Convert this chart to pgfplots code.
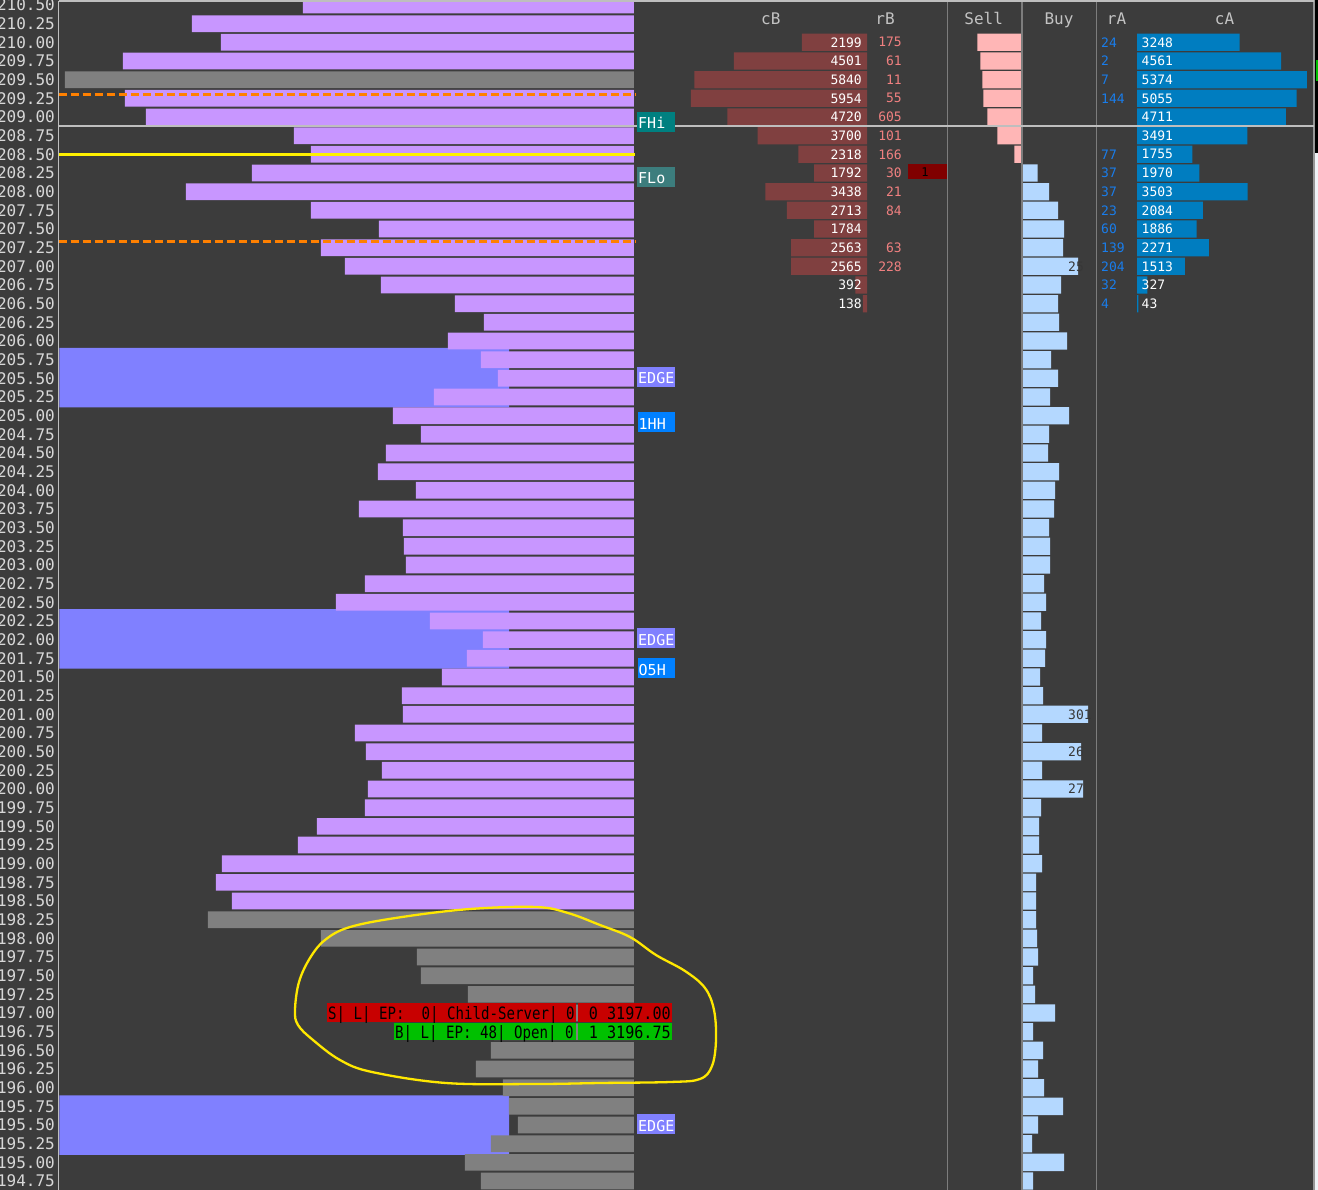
\documentclass[border=0pt]{standalone}
\usepackage{pgfplots}
\pgfplotsset{compat=1.18}
\usepackage{pgfplotstable}
\usepackage{graphicx}
\usepackage{fontspec}
\setmainfont{DejaVu Sans}
\newfontfamily\mono{DejaVu Sans Mono}
\newcommand\fs[1]{\fontsize{#1}{#1}\selectfont}

\definecolor{bg}{RGB}{60,60,60}
\definecolor{purp}{RGB}{200,150,255}
\definecolor{pgray}{RGB}{128,128,128}
\definecolor{band}{RGB}{128,128,255}
\definecolor{cbred}{RGB}{128,64,64}
\definecolor{rbtxt}{RGB}{240,128,128}
\definecolor{sellc}{RGB}{255,182,182}
\definecolor{buyc}{RGB}{180,216,255}
\definecolor{buytxt}{RGB}{55,55,55}
\definecolor{ratxt}{RGB}{25,125,235}
\definecolor{cablue}{RGB}{0,125,192}
\definecolor{ticklab}{RGB}{215,215,215}
\definecolor{hdr}{RGB}{195,195,195}
\definecolor{yel}{RGB}{255,240,0}
\definecolor{ora}{RGB}{255,128,0}
\definecolor{teal1}{RGB}{0,128,128}
\definecolor{teal2}{RGB}{60,125,125}
\definecolor{tagblue}{RGB}{0,128,255}
\definecolor{ordred}{RGB}{200,0,0}
\definecolor{ordgreen}{RGB}{0,192,0}
\definecolor{darkred}{RGB}{128,0,0}
\definecolor{sepc}{RGB}{125,125,125}
\definecolor{lightsep}{RGB}{190,190,190}
\definecolor{stripw}{RGB}{240,243,247}
\definecolor{ann}{RGB}{255,232,0}

% volume profile (bar length in px)
\pgfplotstableread{
p v
3210.50 331
3210.25 442
3210.00 413
3209.75 511
3209.25 509
3209.00 488
3208.75 340
3208.50 323
3208.25 382
3208.00 448
3207.75 323
3207.50 255
3207.25 313
3207.00 289
3206.75 253
3206.50 179
3206.25 150
3206.00 186
3205.75 153
3205.50 136
3205.25 200
3205.00 241
3204.75 213
3204.50 248
3204.25 256
3204.00 218
3203.75 275
3203.50 231
3203.25 230
3203.00 228
3202.75 269
3202.50 298
3202.25 204
3202.00 151
3201.75 167
3201.50 192
3201.25 232
3201.00 231
3200.75 279
3200.50 268
3200.25 252
3200.00 266
3199.75 269
3199.50 317
3199.25 336
3199.00 412
3198.75 418
3198.50 402
}\profP

\pgfplotstableread{
p v
3209.50 569
3198.25 426
3198.00 313
3197.75 217
3197.50 213
3197.25 166
3197.00 160
3196.75 140
3196.50 143
3196.25 158
3196.00 131
3195.75 125
3195.50 116
3195.25 143
3195.00 169
3194.75 153
}\profG

\pgfplotstableread{
p v
3205.51 449.5
3202.01 449.5
3195.50 449.5
}\bands

\pgfplotstableread{
p cB
3210.00 2199
3209.75 4501
3209.50 5840
3209.25 5954
3209.00 4720
3208.75 3700
3208.50 2318
3208.25 1792
3208.00 3438
3207.75 2713
3207.50 1784
3207.25 2563
3207.00 2565
3206.75 392
3206.50 138
}\cBtab

\pgfplotstableread{
p rB
3210.00 175
3209.75 61
3209.50 11
3209.25 55
3209.00 605
3208.75 101
3208.50 166
3208.25 30
3208.00 21
3207.75 84
3207.25 63
3207.00 228
}\rBtab

\pgfplotstableread{
p v
3210.00 43.5
3209.75 40.5
3209.50 38.5
3209.25 37.5
3209.00 33.5
3208.75 23.5
3208.50 6.5
}\sell

\pgfplotstableread{
p v
3208.25 15
3208.00 26.5
3207.75 35.5
3207.50 41.5
3207.25 40.5
3207.00 55.5
3206.75 38.5
3206.50 35.5
3206.25 36.5
3206.00 44.5
3205.75 28.5
3205.50 35.5
3205.25 27.5
3205.00 46.5
3204.75 26.5
3204.50 25.5
3204.25 36.5
3204.00 32.5
3203.75 31.5
3203.50 26.5
3203.25 27.5
3203.00 27.5
3202.75 21.5
3202.50 23.5
3202.25 18.5
3202.00 23.5
3201.75 22.5
3201.50 17.5
3201.25 20.5
3201.00 65.5
3200.75 19.5
3200.50 58.5
3200.25 19.5
3200.00 60.5
3199.75 18.5
3199.50 16.5
3199.25 16.5
3199.00 19.5
3198.75 13.5
3198.50 13.5
3198.25 13.5
3198.00 14.5
3197.75 15.5
3197.50 10.5
3197.25 12.5
3197.00 32.5
3196.75 10.5
3196.50 20.5
3196.25 15.5
3196.00 21.5
3195.75 40.5
3195.50 15.5
3195.25 9.5
3195.00 41.5
3194.75 10.5
}\buy

\pgfplotstableread{
p t
3207.00 25
3201.00 301
3200.50 26
3200.00 27
}\buylab

\pgfplotstableread{
p rA
3210.00 24
3209.75 2
3209.50 7
3209.25 144
3208.50 77
3208.25 37
3208.00 37
3207.75 23
3207.50 60
3207.25 139
3207.00 204
3206.75 32
3206.50 4
}\rAtab

\pgfplotstableread{
p cA
3210.00 3248
3209.75 4561
3209.50 5374
3209.25 5055
3209.00 4711
3208.75 3491
3208.50 1755
3208.25 1970
3208.00 3503
3207.75 2084
3207.50 1886
3207.25 2271
3207.00 1513
3206.75 327
3206.50 43
}\cAtab

\pgfplotsset{
  lay/.style={scale only axis, anchor=south west, height=1190pt,
    ymin=3194.630, ymax=3210.567, axis line style={draw=none},
    xtick=\empty, ytick=\empty, major tick length=0pt, clip=false,
    scaled ticks=false},
  hbar/.style={xbar, bar shift=0pt, draw=none, fill=#1, bar width=16.7pt},
  dbar/.style={xbar, bar shift=0pt, draw=none, fill=#1, bar width=17.3pt},
  txt/.style 2 args={only marks, mark=*, mark size=0pt,
    mark options={draw=none, fill=none}, nodes near coords,
    point meta=explicit symbolic,
    every node near coord/.append style={anchor=#1, text=#2, inner sep=0pt, font=\mono\fs{13}}},
}

\begin{document}
\begin{tikzpicture}
\useasboundingbox (0,0) rectangle (1318pt,1190pt);
\clip (0,0) rectangle (1318pt,1190pt);
\fill[bg] (0,0) rectangle (1318pt,1190pt);

% EDGE bands + price labels
\begin{axis}[lay, at={(59.5pt,0pt)}, width=574.5pt, xmin=0, xmax=574.5,
  ytick={3194.75,3195,...,3210.5},
  /pgf/number format/assume math mode=true,
  yticklabel style={font=\mono\fs{16}, text=ticklab, anchor=east, inner sep=0pt, xshift=-4.5pt,
    /pgf/number format/fixed, /pgf/number format/fixed zerofill,
    /pgf/number format/precision=2, /pgf/number format/1000 sep={}}]
\addplot[xbar, bar shift=0pt, bar width=59.5pt, draw=none, fill=band] table[x=v,y=p]{\bands};
\end{axis}

% volume profile
\begin{axis}[lay, at={(59.5pt,0pt)}, width=574.5pt, x dir=reverse, xmin=0, xmax=574.5]
\addplot[hbar=purp] table[x=v,y=p]{\profP};
\addplot[hbar=pgray] table[x=v,y=p]{\profG};
\end{axis}

% cB
\begin{axis}[lay, at={(690pt,0pt)}, width=177pt, x dir=reverse, xmin=0, xmax=5984]
\addplot[dbar=cbred] table[x=cB,y=p]{\cBtab};
\end{axis}

% Sell
\begin{axis}[lay, at={(947.5pt,0pt)}, width=73.3pt, x dir=reverse, xmin=0, xmax=73.3]
\addplot[dbar=sellc] table[x=v,y=p]{\sell};
\end{axis}

% Buy
\begin{axis}[lay, at={(1022.5pt,0pt)}, width=74pt, xmin=0, xmax=74]
\addplot[dbar=buyc] table[x=v,y=p]{\buy};
\end{axis}

% cA
\begin{axis}[lay, at={(1137pt,0pt)}, width=176pt, xmin=0, xmax=5570]
\addplot[dbar=cablue] table[x=cA,y=p]{\cAtab};
\end{axis}

% text columns
\begin{axis}[lay, at={(0pt,0pt)}, width=1318pt, xmin=0, xmax=1318]
\addplot[txt={east}{white}] table[x expr=862, y=p, meta=cB]{\cBtab};
\addplot[txt={east}{rbtxt}] table[x expr=902, y=p, meta=rB]{\rBtab};
\addplot[txt={west}{ratxt}] table[x expr=1101, y=p, meta=rA]{\rAtab};
\addplot[txt={west}{white}] table[x expr=1141.5, y=p, meta=cA]{\cAtab};
\addplot[txt={west}{buytxt}] table[x expr=1068, y=p, meta=t]{\buylab};
\end{axis}

% overlay in pixel coordinates
\begin{axis}[scale only axis, anchor=south west, at={(0pt,0pt)}, width=1318pt, height=1190pt,
  xmin=0, xmax=1318, ymin=0, ymax=1190, y dir=reverse, axis line style={draw=none},
  xtick=\empty, ytick=\empty, clip=false]
\draw[sepc, line width=1pt] (947.5,1.5) -- (947.5,1190);
\draw[sepc, line width=2pt] (1021.5,1.5) -- (1021.5,1190);
\draw[sepc, line width=1.2pt] (1096.5,1.5) -- (1096.5,1190);
\draw[sepc!80!white, line width=2pt] (1313.5,0) -- (1313.5,1190);
\fill[black] (1314.5,0) rectangle (1318,153);
\fill[green!75!black] (1316,60) rectangle (1318,81);
\fill[stripw] (1314.5,153) rectangle (1318,1190);
\draw[lightsep, line width=1.3pt] (58.5,1.2) -- (58.5,1190);
\draw[lightsep, line width=1.5pt] (58.5,1.2) -- (1313.5,1.2);
\draw[lightsep, line width=2pt] (58.5,126) -- (1313.5,126);
\draw[ora, line width=3pt, dash pattern=on 8pt off 4pt] (58.5,94.5) -- (636,94.5);
\draw[ora, line width=3pt, dash pattern=on 8pt off 4pt] (58.5,242) -- (636,242);
\draw[yel, line width=3.4pt] (58.5,154.3) -- (635,154.3);
% headers
\node[anchor=base, inner sep=0pt, text=hdr, font=\mono\fs{16}] at (770.8,25) {cB};
\node[anchor=base, inner sep=0pt, text=hdr, font=\mono\fs{16}] at (885,25) {rB};
\node[anchor=base, inner sep=0pt, text=hdr, font=\mono\fs{16}] at (983.7,25) {Sell};
\node[anchor=base, inner sep=0pt, text=hdr, font=\mono\fs{16}] at (1059,25) {Buy};
\node[anchor=base, inner sep=0pt, text=hdr, font=\mono\fs{16}] at (1116.5,25) {rA};
\node[anchor=base, inner sep=0pt, text=hdr, font=\mono\fs{16}] at (1224.5,25) {cA};
% tags
\fill[teal1] (637,112) rectangle (675,132);
\node[anchor=base west, inner sep=0pt, text=white, font=\mono\fs{15}] at (638,129) {FHi};
\fill[teal2] (637,167) rectangle (675,187);
\node[anchor=base west, inner sep=0pt, text=white, font=\mono\fs{15}] at (638,184) {FLo};
\fill[band] (637,367) rectangle (675,387);
\node[anchor=base west, inner sep=0pt, text=white, font=\mono\fs{15}] at (638,384) {EDGE};
\fill[tagblue] (638,412) rectangle (675,432);
\node[anchor=base west, inner sep=0pt, text=white, font=\mono\fs{15}] at (638.5,429) {1HH};
\fill[band] (637,628) rectangle (675,648);
\node[anchor=base west, inner sep=0pt, text=white, font=\mono\fs{15}] at (638,645) {EDGE};
\fill[tagblue] (638,658) rectangle (675,678);
\node[anchor=base west, inner sep=0pt, text=white, font=\mono\fs{15}] at (638.5,675) {O5H};
\fill[band] (637,1114) rectangle (675,1134);
\node[anchor=base west, inner sep=0pt, text=white, font=\mono\fs{15}] at (638,1131) {EDGE};
% small order cell
\fill[darkred] (907.5,164) rectangle (947,179.5);
\node[inner sep=0pt, text=black, font=\mono\fs{12}] at (925,172) {1};
% order boxes
\fill[ordred] (327,1003) rectangle (575.5,1021.5);
\fill[ordred] (577.5,1003) rectangle (671.5,1021.5);
\fill[ordgreen] (394,1022.5) rectangle (575.5,1040);
\fill[ordgreen] (577.5,1022.5) rectangle (671.5,1040);
\node[anchor=base west, inner sep=0pt, text=black, font=\mono\fs{17}] at (328,1019.5) {\scalebox{0.83}[1]{S| L| EP:\ \ 0| Child-Server| 0}};
\node[anchor=base east, inner sep=0pt, text=black, font=\mono\fs{17}] at (671,1019.5) {\scalebox{0.89}[1]{0 3197.00}};
\node[anchor=base west, inner sep=0pt, text=black, font=\mono\fs{17}] at (395,1038) {\scalebox{0.83}[1]{B| L| EP: 48| Open| 0}};
\node[anchor=base east, inner sep=0pt, text=black, font=\mono\fs{17}] at (671,1038) {\scalebox{0.89}[1]{1 3196.75}};
% hand-drawn annotation
\draw[ann, line width=2.3pt] plot[smooth cycle, tension=0.6] coordinates {(295,1010) (299,982) (310,958) (325,940) (350,927) (402,917) (470,909) (536,907) (568,913) (600,925) (630,937) (656,955) (685,971) (705,988) (714,1010) (716,1040) (712,1066) (700,1079) (670,1082) (600,1083) (536,1084) (446,1083) (372,1072) (340,1060) (313,1040) (298,1025)};
\end{axis}
\end{tikzpicture}
\end{document}
